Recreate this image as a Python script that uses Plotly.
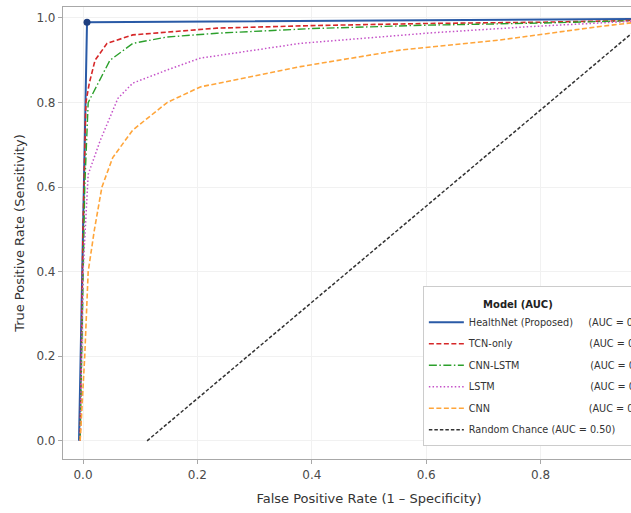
import plotly.graph_objects as go

# ---------------- data ----------------
healthnet_fpr = [-0.007, 0.007, 1.0]
healthnet_tpr = [0.0, 0.99, 0.998]

tcn_fpr = [-0.005, 0.0, 0.005, 0.011, 0.021, 0.042, 0.087, 0.147, 0.234, 0.4, 0.6, 0.8, 1.0]
tcn_tpr = [0.0, 0.5, 0.8, 0.846, 0.90, 0.94, 0.96, 0.967, 0.976, 0.982, 0.987, 0.99, 0.995]

cnnlstm_fpr = [-0.005, 0.0, 0.003, 0.009, 0.024, 0.047, 0.087, 0.147, 0.234, 0.4, 0.6, 0.8, 1.0]
cnnlstm_tpr = [0.0, 0.4, 0.6, 0.8, 0.84, 0.90, 0.94, 0.955, 0.964, 0.975, 0.983, 0.988, 0.995]

lstm_fpr = [-0.005, 0.0, 0.009, 0.03, 0.061, 0.087, 0.147, 0.205, 0.38, 0.61, 0.787, 0.93, 1.0]
lstm_tpr = [0.0, 0.4, 0.63, 0.71, 0.81, 0.846, 0.877, 0.905, 0.94, 0.965, 0.98, 0.99, 0.995]

cnn_fpr = [-0.005, 0.003, 0.009, 0.02, 0.033, 0.052, 0.087, 0.147, 0.205, 0.38, 0.554, 0.729, 0.904, 1.0]
cnn_tpr = [0.0, 0.2, 0.4, 0.5, 0.60, 0.67, 0.735, 0.80, 0.837, 0.885, 0.924, 0.948, 0.98, 0.995]

random_fpr = [0.112, 1.0]
random_tpr = [0.0, 1.01]

model_names = ["HealthNet (Proposed)", "TCN-only", "CNN-LSTM", "LSTM", "CNN"]
model_auc = [0.99, 0.97, 0.96, 0.93, 0.89]
random_label = "Random Chance (AUC = 0.50)"

x_ticks = [0.0, 0.2, 0.4, 0.6, 0.8]
y_ticks = [0.0, 0.2, 0.4, 0.6, 0.8, 1.0]

# ---------------- legend label padding (aligned AUC column) ----------------
W = {'H': 752, 'e': 615, 'a': 613, 'l': 278, 't': 392, 'h': 634, 'N': 748, ' ': 318,
     '(': 390, ')': 390, 'P': 603, 'r': 411, 'o': 612, 'p': 635, 's': 521, 'd': 635,
     'T': 611, 'C': 698, '-': 361, 'n': 634, 'y': 592, 'L': 557, 'S': 635, 'M': 863}


def text_w(s):
    return sum(W.get(c, 600) for c in s)


col = 12.4 * 1000  # em-units position of the AUC column
labels = []
for nm, auc in zip(model_names, model_auc):
    pad = max(1, round((col - text_w(nm)) / 318))
    labels.append(nm + "\u00a0" * pad + f"(AUC = {auc:.2f})")

# ---------------- figure ----------------
series = [
    (healthnet_fpr, healthnet_tpr, "#2a5aa6", "solid", 2.0),
    (tcn_fpr, tcn_tpr, "#d62728", "5px,2.5px", 1.6),
    (cnnlstm_fpr, cnnlstm_tpr, "#2ca02c", "8px,2.5px,1.5px,2.5px", 1.4),
    (lstm_fpr, lstm_tpr, "#c552c8", "1.5px,2.2px", 1.5),
    (cnn_fpr, cnn_tpr, "#ffa53a", "5px,2.5px", 1.6),
]

fig = go.Figure()
for i, ((xs, ys, c, d, w), lab) in enumerate(zip(series, labels)):
    fig.add_trace(go.Scatter(x=xs, y=ys, mode="lines", name=lab,
                             line=dict(color=c, dash=d, width=w),
                             legendgroup=f"g{i}"))
    if i == 0:
        fig.add_trace(go.Scatter(x=[xs[1]], y=[ys[1]], mode="markers",
                                 marker=dict(color="#1f3f80", size=7),
                                 showlegend=False, hoverinfo="skip"))

fig.add_trace(go.Scatter(x=random_fpr, y=random_tpr, mode="lines", name=random_label,
                         line=dict(color="#333333", dash="3.5px,2px", width=1.5),
                         legendgroup="g5"))

axis_common = dict(
    showline=True, mirror=True, linecolor="#a8a8a8", linewidth=1.2,
    ticks="outside", ticklen=4, tickcolor="#a8a8a8", tickwidth=1,
    showgrid=True, gridcolor="#f1f1f1", gridwidth=1, zeroline=False,
    tickfont=dict(size=12, color="#4a4a4a"), tickformat=".1f",
)

fig.update_layout(
    width=690, height=513,
    margin=dict(l=63, r=15, t=7, b=54, autoexpand=False),
    paper_bgcolor="white", plot_bgcolor="white",
    font=dict(family="DejaVu Sans", color="#333333"),
    xaxis=dict(range=[-0.035, 1.035], tickvals=x_ticks,
               title=dict(text="False Positive Rate (1 – Specificity)", font=dict(size=13, color="#333333"), standoff=13),
               **axis_common),
    yaxis=dict(range=[-0.043, 1.026], tickvals=y_ticks,
               title=dict(text="True Positive Rate (Sensitivity)", font=dict(size=13, color="#333333"), standoff=8),
               **axis_common),
    legend=dict(
        x=0.588, y=0.029, xanchor="left", yanchor="bottom",
        bgcolor="rgba(255,255,255,0.95)", bordercolor="#cccccc", borderwidth=1,
        font=dict(size=9.7, color="#333333", family="DejaVu Sans"),
        itemwidth=35, tracegroupgap=2.5,
        title=dict(text="<span style='font-size:10px'>" + "\u00a0" * 18 + "<b>Model (AUC)</b></span>",
                   font=dict(size=16, color="#222222"), side="top"),
    ),
    showlegend=True,
)

fig.write_html("out.html", config={"displayModeBar": False},
               post_script="document.body.style.margin='0';document.body.style.overflow='hidden';")
